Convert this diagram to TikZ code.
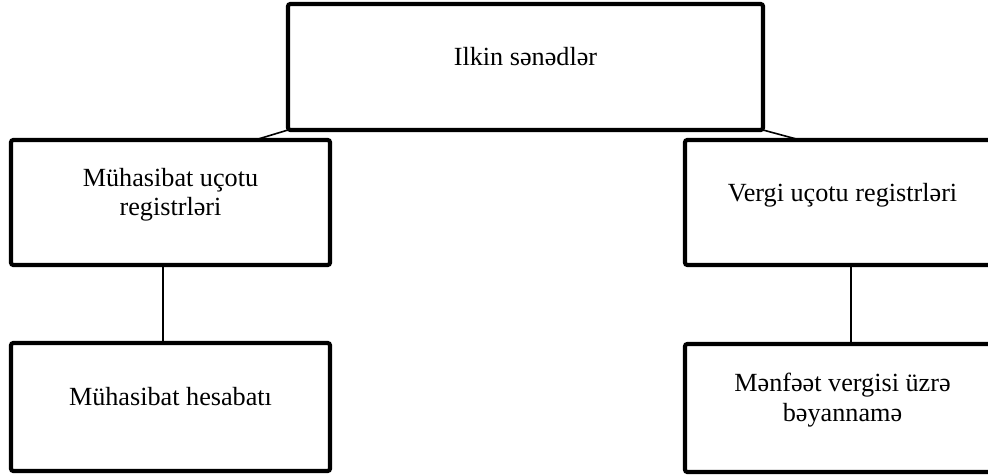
\documentclass[tikz,border=0pt]{standalone}
\usepackage{fontspec}
\setmainfont{Liberation Serif}
\usetikzlibrary{positioning}

\begin{document}
\begin{tikzpicture}[
 box/.style={draw,line width=2.1pt,rounded corners=1.2pt,align=center,
   font=\fontsize{13.1}{14.8}\selectfont,outer sep=0pt,inner sep=0pt,
   text depth=10.5pt},
 link/.style={line width=0.8pt}
]
\useasboundingbox (0,0) rectangle (494pt,-237.5pt);
\node[box,minimum width=237.5pt,minimum height=63pt] (docs) at (262.75pt,-33.5pt)
 {Ilkin sənədlər};
\node[box,minimum width=159.5pt,minimum height=62.5pt] (acct) at (85.25pt,-101.25pt)
 {Mühasibat uçotu\\registrləri};
\node[box,minimum width=159.5pt,minimum height=64pt,below=39pt of acct] (report)
 {Mühasibat hesabatı};
\node[box,minimum width=157.5pt,minimum height=62.5pt,right=177.5pt of acct] (tax)
 {Vergi uçotu registrləri};
\node[box,minimum width=157.5pt,minimum height=64pt,below=39.5pt of tax] (decl)
 {Mənfəət vergisi üzrə\\bəyannamə};
\draw[link] (docs.south west) -- ([xshift=42.25pt]acct.north);
\draw[link] (docs.south east) -- ([xshift=-21.25pt]tax.north);
\draw[link] ([xshift=-3.75pt]acct.south) -- ([xshift=-3.75pt]report.north);
\draw[link] ([xshift=4.25pt]tax.south) -- ([xshift=4.25pt]decl.north);
\end{tikzpicture}
\end{document}
